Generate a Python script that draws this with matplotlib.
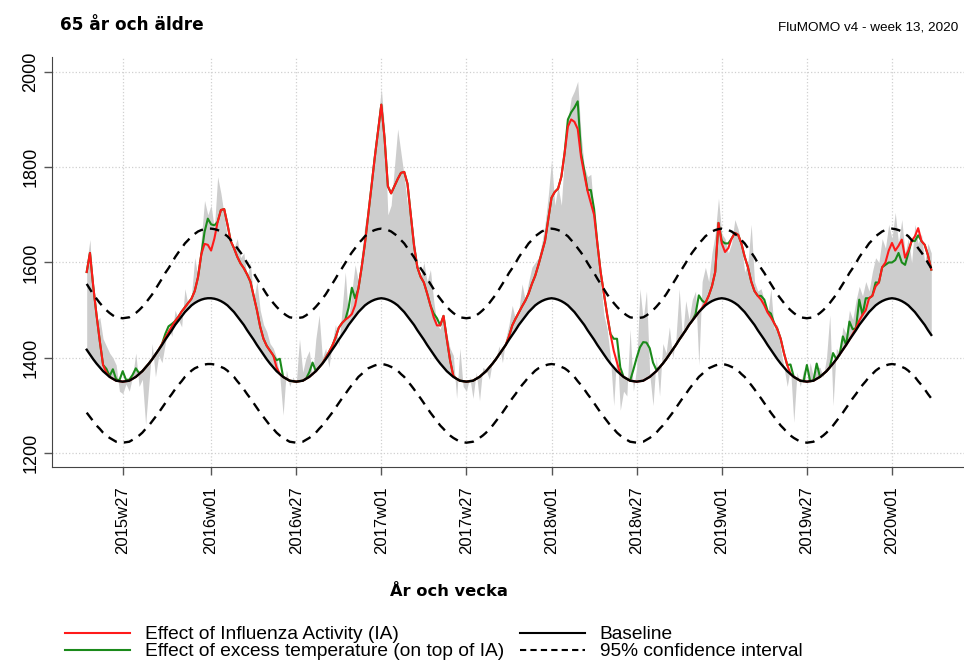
import numpy as np
import matplotlib
matplotlib.use("Agg")
import matplotlib.pyplot as plt
from matplotlib.lines import Line2D

plt.rcParams['font.family'] = ['Liberation Sans', 'DejaVu Sans']

# weekly series 2015w16 .. 2020w13, week index counted from 2015w27 (= 0)
weeks = np.arange(-11, 248)

baseline = [
    1417, 1407, 1397, 1388, 1380, 1372, 1366, 1360, 1356, 1352, 1351, 1350, 1351, 1352, 1356, 1360, 1366, 1372, 1380,
    1388, 1397, 1407, 1417, 1427, 1438, 1448, 1458, 1469, 1478, 1487, 1496, 1503, 1510, 1515, 1519, 1522, 1524, 1525,
    1525, 1524, 1522, 1519, 1515, 1510, 1503, 1496, 1487, 1478, 1469, 1458, 1448, 1438, 1427, 1417, 1407, 1397, 1388, 1380, 1372, 1366, 1360, 1356, 1352, 1351,
    1350, 1351, 1352, 1356, 1360, 1366, 1372, 1380, 1388, 1397, 1407, 1417, 1427, 1438, 1448, 1458, 1469, 1478, 1487, 1496, 1503, 1510, 1515, 1519, 1522, 1524,
    1525, 1524, 1522, 1519, 1515, 1510, 1503, 1496, 1487, 1478, 1469, 1458, 1448, 1438, 1427, 1417, 1407, 1397, 1388, 1380, 1372, 1366, 1360, 1356, 1352, 1351,
    1350, 1351, 1352, 1356, 1360, 1366, 1372, 1380, 1388, 1397, 1407, 1417, 1427, 1438, 1448, 1458, 1469, 1478, 1487, 1496, 1503, 1510, 1515, 1519, 1522, 1524,
    1525, 1524, 1522, 1519, 1515, 1510, 1503, 1496, 1487, 1478, 1469, 1458, 1448, 1438, 1427, 1417, 1407, 1397, 1388, 1380, 1372, 1366, 1360, 1356, 1352, 1351,
    1350, 1351, 1352, 1356, 1360, 1366, 1372, 1380, 1388, 1397, 1407, 1417, 1427, 1438, 1448, 1458, 1469, 1478, 1487, 1496, 1503, 1510, 1515, 1519, 1522, 1524,
    1525, 1524, 1522, 1519, 1515, 1510, 1503, 1496, 1487, 1478, 1469, 1458, 1448, 1438, 1427, 1417, 1407, 1397, 1388, 1380, 1372, 1366, 1360, 1356, 1352, 1351,
    1350, 1351, 1352, 1356, 1360, 1366, 1372, 1380, 1388, 1397, 1407, 1417, 1427, 1438, 1448, 1458, 1469, 1478, 1487, 1496, 1503, 1510, 1515, 1519, 1522, 1524,
    1525, 1524, 1522, 1519, 1515, 1510, 1503, 1496, 1487, 1478, 1469, 1458, 1448,
]

ci_upper = [
    1555, 1544, 1533, 1524, 1515, 1507, 1500, 1494, 1489, 1485, 1484, 1483, 1484, 1485, 1489, 1494, 1500, 1507, 1515,
    1524, 1533, 1544, 1555, 1566, 1578, 1588, 1599, 1611, 1621, 1630, 1640, 1647, 1655, 1660, 1665, 1668, 1670, 1671,
    1671, 1670, 1668, 1665, 1660, 1655, 1647, 1640, 1630, 1621, 1611, 1599, 1588, 1578, 1566, 1555, 1544, 1533, 1524, 1515, 1507, 1500, 1494, 1489, 1485, 1484,
    1483, 1484, 1485, 1489, 1494, 1500, 1507, 1515, 1524, 1533, 1544, 1555, 1566, 1578, 1588, 1599, 1611, 1621, 1630, 1640, 1647, 1655, 1660, 1665, 1668, 1670,
    1671, 1670, 1668, 1665, 1660, 1655, 1647, 1640, 1630, 1621, 1611, 1599, 1588, 1578, 1566, 1555, 1544, 1533, 1524, 1515, 1507, 1500, 1494, 1489, 1485, 1484,
    1483, 1484, 1485, 1489, 1494, 1500, 1507, 1515, 1524, 1533, 1544, 1555, 1566, 1578, 1588, 1599, 1611, 1621, 1630, 1640, 1647, 1655, 1660, 1665, 1668, 1670,
    1671, 1670, 1668, 1665, 1660, 1655, 1647, 1640, 1630, 1621, 1611, 1599, 1588, 1578, 1566, 1555, 1544, 1533, 1524, 1515, 1507, 1500, 1494, 1489, 1485, 1484,
    1483, 1484, 1485, 1489, 1494, 1500, 1507, 1515, 1524, 1533, 1544, 1555, 1566, 1578, 1588, 1599, 1611, 1621, 1630, 1640, 1647, 1655, 1660, 1665, 1668, 1670,
    1671, 1670, 1668, 1665, 1660, 1655, 1647, 1640, 1630, 1621, 1611, 1599, 1588, 1578, 1566, 1555, 1544, 1533, 1524, 1515, 1507, 1500, 1494, 1489, 1485, 1484,
    1483, 1484, 1485, 1489, 1494, 1500, 1507, 1515, 1524, 1533, 1544, 1555, 1566, 1578, 1588, 1599, 1611, 1621, 1630, 1640, 1647, 1655, 1660, 1665, 1668, 1670,
    1671, 1670, 1668, 1665, 1660, 1655, 1647, 1640, 1630, 1621, 1611, 1599, 1588,
]

ci_lower = [
    1285, 1276, 1267, 1258, 1251, 1243, 1237, 1232, 1228, 1224, 1223, 1222, 1223, 1224, 1228, 1232, 1237, 1243, 1251,
    1258, 1267, 1276, 1285, 1295, 1305, 1315, 1324, 1334, 1343, 1351, 1360, 1366, 1373, 1378, 1381, 1384, 1386, 1387,
    1387, 1386, 1384, 1381, 1378, 1373, 1366, 1360, 1351, 1343, 1334, 1324, 1315, 1305, 1295, 1285, 1276, 1267, 1258, 1251, 1243, 1237, 1232, 1228, 1224, 1223,
    1222, 1223, 1224, 1228, 1232, 1237, 1243, 1251, 1258, 1267, 1276, 1285, 1295, 1305, 1315, 1324, 1334, 1343, 1351, 1360, 1366, 1373, 1378, 1381, 1384, 1386,
    1387, 1386, 1384, 1381, 1378, 1373, 1366, 1360, 1351, 1343, 1334, 1324, 1315, 1305, 1295, 1285, 1276, 1267, 1258, 1251, 1243, 1237, 1232, 1228, 1224, 1223,
    1222, 1223, 1224, 1228, 1232, 1237, 1243, 1251, 1258, 1267, 1276, 1285, 1295, 1305, 1315, 1324, 1334, 1343, 1351, 1360, 1366, 1373, 1378, 1381, 1384, 1386,
    1387, 1386, 1384, 1381, 1378, 1373, 1366, 1360, 1351, 1343, 1334, 1324, 1315, 1305, 1295, 1285, 1276, 1267, 1258, 1251, 1243, 1237, 1232, 1228, 1224, 1223,
    1222, 1223, 1224, 1228, 1232, 1237, 1243, 1251, 1258, 1267, 1276, 1285, 1295, 1305, 1315, 1324, 1334, 1343, 1351, 1360, 1366, 1373, 1378, 1381, 1384, 1386,
    1387, 1386, 1384, 1381, 1378, 1373, 1366, 1360, 1351, 1343, 1334, 1324, 1315, 1305, 1295, 1285, 1276, 1267, 1258, 1251, 1243, 1237, 1232, 1228, 1224, 1223,
    1222, 1223, 1224, 1228, 1232, 1237, 1243, 1251, 1258, 1267, 1276, 1285, 1295, 1305, 1315, 1324, 1334, 1343, 1351, 1360, 1366, 1373, 1378, 1381, 1384, 1386,
    1387, 1386, 1384, 1381, 1378, 1373, 1366, 1360, 1351, 1343, 1334, 1324, 1315,
]

observed = [
    1600, 1648, 1530, 1475, 1485, 1440, 1425, 1410, 1400, 1385, 1330, 1325, 1345, 1330, 1360, 1410, 1340, 1355, 1260,
    1345, 1430, 1360, 1405, 1390, 1430, 1465, 1445, 1500, 1480, 1465, 1545, 1510, 1530, 1610, 1570, 1650, 1730, 1700,
    1720, 1670, 1780, 1745, 1700, 1650, 1640, 1630, 1650, 1610, 1620, 1570, 1600, 1520, 1560, 1500, 1470, 1455, 1430, 1420, 1400, 1360, 1280, 1375, 1340, 1360,
    1345, 1440, 1370, 1400, 1415, 1360, 1440, 1490, 1400, 1420, 1380, 1430, 1470, 1425, 1500, 1580, 1480, 1540, 1595, 1560, 1620, 1680, 1710, 1790, 1850, 1900,
    1965, 1880, 1700, 1720, 1800, 1880, 1830, 1780, 1720, 1710, 1650, 1600, 1570, 1600, 1560, 1585, 1520, 1470, 1460, 1490, 1450, 1420, 1405, 1315, 1420, 1340,
    1330, 1360, 1315, 1370, 1310, 1380, 1375, 1355, 1395, 1400, 1425, 1390, 1440, 1470, 1510, 1480, 1500, 1555, 1520, 1560, 1590, 1600, 1610, 1640, 1680, 1740,
    1815, 1720, 1760, 1720, 1830, 1900, 1945, 1960, 1980, 1870, 1800, 1780, 1785, 1700, 1620, 1560, 1490, 1460, 1400, 1300, 1420, 1290, 1330, 1320, 1460, 1330,
    1380, 1545, 1480, 1540, 1365, 1300, 1400, 1320, 1430, 1410, 1465, 1400, 1440, 1545, 1440, 1520, 1480, 1522, 1540, 1385, 1560, 1590, 1560, 1620, 1660, 1735,
    1660, 1650, 1620, 1640, 1690, 1670, 1640, 1580, 1600, 1680, 1560, 1540, 1545, 1520, 1490, 1545, 1460, 1470, 1420, 1380, 1340, 1380, 1265, 1370, 1340, 1375,
    1345, 1390, 1360, 1380, 1380, 1360, 1400, 1490, 1300, 1420, 1410, 1465, 1450, 1500, 1480, 1520, 1550, 1530, 1560, 1540, 1580, 1610, 1600, 1650, 1630, 1680,
    1650, 1705, 1640, 1690, 1620, 1650, 1600, 1680, 1640, 1660, 1600, 1640, 1620,
]

# effect of influenza activity on top of the baseline
ia_effect = [
    163, 213, 153, 102, 55, 13, 3, 0, 0, 0, 0, 0, 0, 0, 0, 0, 0, 0, 0, 0,
    0, 0, 0, 2, 4, 6, 8, 8, 8, 10, 10, 12, 14, 25, 50, 95, 115, 112,
    100, 126, 163, 191, 197, 170, 142, 134, 125, 120, 119, 117, 112, 92, 73, 48, 33, 28, 27, 25, 8, 0, 0, 0, 0, 0,
    0, 0, 0, 0, 0, 0, 0, 0, 0, 3, 5, 8, 15, 25, 25, 22, 16, 14, 23, 49, 87, 130, 185, 241, 298, 351,
    406, 336, 238, 226, 245, 265, 285, 294, 278, 222, 166, 132, 122, 120, 108, 93, 78, 71, 80, 108, 68, 29, 2, 0, 0, 0,
    0, 0, 0, 0, 0, 0, 0, 0, 0, 0, 0, 0, 0, 7, 20, 24, 26, 30, 33, 39, 52, 62, 80, 101, 123, 166,
    211, 224, 233, 261, 315, 375, 397, 399, 393, 344, 316, 292, 277, 262, 213, 163, 128, 93, 62, 35, 18, 0, 0, 0, 0, 0,
    0, 0, 0, 0, 0, 0, 0, 0, 0, 0, 0, 0, 0, 0, 0, 0, 0, 0, 0, 0, 2, 5, 15, 31, 58, 159,
    115, 98, 108, 131, 147, 148, 137, 116, 103, 82, 71, 72, 74, 72, 68, 68, 66, 63, 52, 30, 13, 0, 0, 0, 0, 0,
    0, 0, 0, 0, 0, 0, 0, 0, 0, 0, 0, 0, 0, 0, 2, 4, 9, 12, 13, 29, 27, 40, 43, 71, 78, 101,
    116, 101, 113, 129, 95, 115, 142, 159, 185, 167, 168, 157, 137,
]

# effect of excess temperature on top of IA
temp_effect = [
    0, 0, 0, 0, 0, 0, 8, 2, 20, 3, 2, 22, 3, 2, 8, 18, 2, 0, 0,
    0, 0, 0, 0, 0, 8, 12, 5, 0, 0, 0, 0, 0, 0, 0, 0, 0, 25, 55,
    55, 28, 0, 0, 0, 0, 0, 0, 0, 0, 0, 0, 0, 0, 0, 0, 0, 0, 0, 0, 15, 32, 0, 0, 0, 0,
    0, 0, 0, 0, 10, 24, 0, 0, 0, 0, 0, 0, 0, 0, 0, 0, 20, 55, 15, 0, 0, 0, 0, 0, 0, 0,
    0, 0, 0, 0, 0, 0, 0, 0, 0, 0, 0, 0, 0, 0, 0, 0, 8, 15, 0, 0, 0, 0, 0, 0, 0, 0,
    0, 0, 0, 0, 0, 0, 0, 0, 0, 0, 0, 0, 0, 0, 0, 0, 0, 0, 0, 0, 0, 0, 0, 0, 0, 0,
    0, 0, 0, 0, 0, 15, 15, 30, 58, 8, 8, 2, 27, 12, 0, 0, 0, 0, 0, 25, 50, 14, 0, 0, 0, 24,
    50, 71, 81, 76, 60, 24, 3, 0, 0, 0, 0, 0, 0, 0, 0, 0, 0, 0, 5, 35, 15, 0, 0, 0, 0, 0,
    5, 18, 10, 0, 0, 0, 0, 0, 0, 0, 0, 0, 8, 12, 3, 8, 0, 0, 0, 0, 0, 20, 0, 0, 0, 0,
    35, 0, 0, 32, 0, 0, 0, 0, 22, 0, 0, 28, 0, 38, 10, 0, 44, 0, 25, 0, 0, 8, 0, 0, -5, -25,
    -41, -20, -15, -48, -15, -5, 0, -10, -15, 0, 0, 0, 0,
]

tick_weeks = [0, 27, 53, 79, 105, 131, 157, 183, 209, 235]
tick_labels = ["2015w27", "2016w01", "2016w27", "2017w01", "2017w27",
               "2018w01", "2018w27", "2019w01", "2019w27", "2020w01"]

baseline = np.array(baseline)
ia_line = baseline + np.array(ia_effect)
temp_line = ia_line + np.array(temp_effect)

fig = plt.figure(figsize=(9.64, 6.62), dpi=100)
ax = fig.add_axes([52 / 964, 195 / 662, 912 / 964, 410 / 662])

ax.fill_between(weeks, baseline, observed, color="#cdcdcd", lw=0, zorder=1)
ax.plot(weeks, temp_line, color="#1a8a1a", lw=1.5, zorder=2)
ax.plot(weeks, ia_line, color="#ff1a1a", lw=1.5, zorder=3)
ax.plot(weeks, baseline, color="black", lw=1.7, zorder=4)
ax.plot(weeks, ci_upper, color="black", lw=1.7, ls=(0, (4, 3)), zorder=4)
ax.plot(weeks, ci_lower, color="black", lw=1.7, ls=(0, (4, 3)), zorder=4)

ax.set_xlim(-21.6, 257)
ax.set_ylim(1171, 2031)
ax.set_xticks(tick_weeks)
ax.set_xticklabels(tick_labels, rotation=90, ha="center", va="top", fontsize=12)
ax.set_yticks([1200, 1400, 1600, 1800, 2000])
ax.set_yticklabels(["1200", "1400", "1600", "1800", "2000"], rotation=90, va="center", fontsize=13)
ax.tick_params(axis="x", length=6, width=1, color="#555555", pad=8)
ax.tick_params(axis="y", length=6, width=1, color="#555555", pad=3)
ax.grid(True, color="#d0d0d0", ls=":", lw=0.9)
ax.set_axisbelow(True)
for side in ["top", "right"]:
    ax.spines[side].set_visible(False)
for side in ["left", "bottom"]:
    ax.spines[side].set_color("#444444")

fig.text(60 / 964, 1 - 25 / 662, "65 år och äldre", fontsize=12.2, fontweight="bold",
         family="DejaVu Sans", va="center", ha="left")
fig.text(958 / 964, 1 - 28 / 662, "FluMOMO v4 - week 13, 2020", fontsize=9.7,
         va="center", ha="right")
fig.text(449 / 964, 1 - 592 / 662, "År och vecka", fontsize=11.7, fontweight="bold",
         family="DejaVu Sans", va="center", ha="center")

handles = [
    Line2D([], [], color="#ff1a1a", lw=1.5),
    Line2D([], [], color="#1a8a1a", lw=1.5),
    Line2D([], [], color="black", lw=1.5),
    Line2D([], [], color="black", lw=1.5, ls=(0, (3, 2))),
]
labels = ["Effect of Influenza Activity (IA)", "Effect of excess temperature (on top of IA)",
          "Baseline", "95% confidence interval"]
fig.legend(handles, labels, ncol=2, loc="upper left", bbox_to_anchor=(65 / 964, 1 - 626 / 662),
           frameon=False, fontsize=13.8, handlelength=3.4, handletextpad=0.75,
           columnspacing=0.85, labelspacing=-0.03, borderpad=0, borderaxespad=0)

fig.savefig("out.png", dpi=100)
